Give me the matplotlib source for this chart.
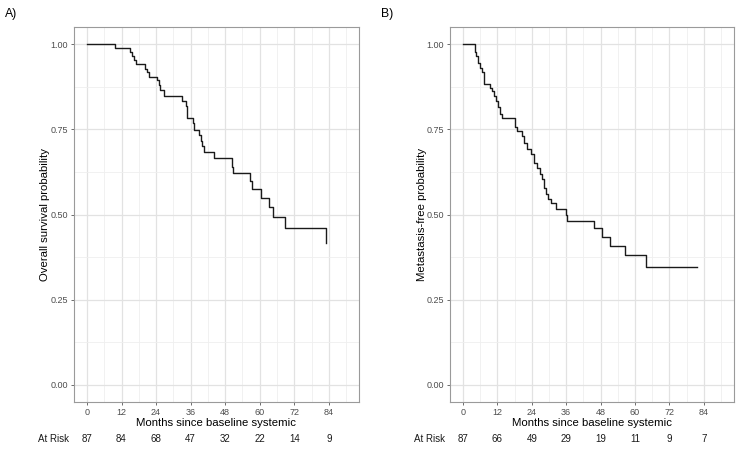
import matplotlib
matplotlib.use("Agg")
import matplotlib.pyplot as plt
import numpy as np

plt.rcParams['font.family'] = ['Liberation Sans', 'DejaVu Sans']

# Panel A: overall survival (step points)
times_A = [0, 9.6, 14.9, 15.7, 16.4, 17.0, 20.1, 20.7, 21.5, 24.5, 24.9, 25.3, 26.8,
           33.1, 34.4, 34.8, 36.7, 37.2, 39.0, 39.5, 39.9, 40.7, 44.1, 50.5, 50.9,
           56.8, 57.2, 60.3, 63.1, 64.7, 68.7, 82.9]
surv_A = [1.0, 0.988, 0.977, 0.966, 0.954, 0.942, 0.928, 0.918, 0.903, 0.894, 0.880,
          0.864, 0.849, 0.834, 0.818, 0.783, 0.767, 0.749, 0.733, 0.715, 0.700, 0.683,
          0.665, 0.639, 0.621, 0.598, 0.575, 0.548, 0.521, 0.492, 0.461, 0.415]

# Panel B: metastasis-free
times_B = [0, 4.3, 4.6, 5.3, 6.0, 6.6, 7.5, 9.6, 10.1, 10.8, 11.5, 12.1, 12.9, 13.8,
           18.2, 19.0, 20.7, 21.4, 22.2, 23.8, 24.9, 26.0, 27.0, 27.6, 28.3, 28.9,
           29.5, 30.8, 32.5, 35.9, 36.3, 45.8, 48.4, 51.3, 56.5, 63.9, 81.6]
surv_B = [1.0, 0.976, 0.964, 0.944, 0.930, 0.917, 0.884, 0.872, 0.861, 0.847, 0.832,
          0.815, 0.796, 0.782, 0.757, 0.745, 0.730, 0.710, 0.693, 0.677, 0.650, 0.637,
          0.620, 0.603, 0.577, 0.559, 0.546, 0.533, 0.517, 0.500, 0.481, 0.459, 0.435,
          0.409, 0.381, 0.347, 0.347]

x_breaks = [0, 12, 24, 36, 48, 60, 72, 84]
y_breaks = [0.00, 0.25, 0.50, 0.75, 1.00]
y_labels = ["0.00", "0.25", "0.50", "0.75", "1.00"]
risk_A = [87, 84, 68, 47, 32, 22, 14, 9]
risk_B = [87, 66, 49, 29, 19, 11, 9, 7]

panels = [
    ("A)", times_A, surv_A, risk_A, "Overall survival probability",
     [74/743, 1-402/455, 285/743, 375/455], 5/743),
    ("B)", times_B, surv_B, risk_B, "Metastasis-free probability",
     [450/743, 1-402/455, 284/743, 375/455], 381/743),
]

fig = plt.figure(figsize=(7.43, 4.55), dpi=100)
for tag, t, s, risk, ylab, pos, tagx in panels:
    ax = fig.add_axes(pos)
    ax.set_xlim(-4.5, 94.5)
    ax.set_ylim(-0.05, 1.05)
    ax.set_xticks(x_breaks)
    ax.set_xticklabels([str(v) for v in x_breaks])
    ax.set_yticks(y_breaks)
    ax.set_yticklabels(y_labels)
    ax.set_xticks(np.arange(6, 91, 12), minor=True)
    ax.set_yticks([0.125, 0.375, 0.625, 0.875], minor=True)
    ax.grid(True, which='major', color='#e2e2e2', linewidth=0.9)
    ax.grid(True, which='minor', color='#efefef', linewidth=0.6)
    ax.set_axisbelow(True)
    ax.tick_params(which='minor', length=0)
    ax.tick_params(which='major', length=2.5, width=0.6, color='#555555',
                   labelsize=6.5, labelcolor='#4d4d4d', pad=2)
    for sp in ax.spines.values():
        sp.set_color('#9a9a9a')
        sp.set_linewidth(0.8)
    ax.step(t, s, where='post', color='#1a1a1a', linewidth=1.0)

    ax.text(0.5, -0.057, "Months since baseline systemic", transform=ax.transAxes,
            ha='center', va='center', fontsize=8.2, color='black')
    ax.text(-0.1, 0.5, ylab, transform=ax.transAxes, rotation=90,
            ha='center', va='center', fontsize=8.2, color='black')
    tr = ax.get_xaxis_transform()
    for xv, r in zip(x_breaks, risk):
        ax.text(xv, -0.1, str(r), transform=tr, ha='center', va='center',
                fontsize=7, color='#1a1a1a')
    ax.text(-0.018, -0.1, "At Risk", transform=ax.transAxes, ha='right',
            va='center', fontsize=7, color='#1a1a1a')
    fig.text(tagx, 1-14/455, tag, ha='left', va='center', fontsize=8.8, color='black')

fig.savefig("out.png", dpi=100)
